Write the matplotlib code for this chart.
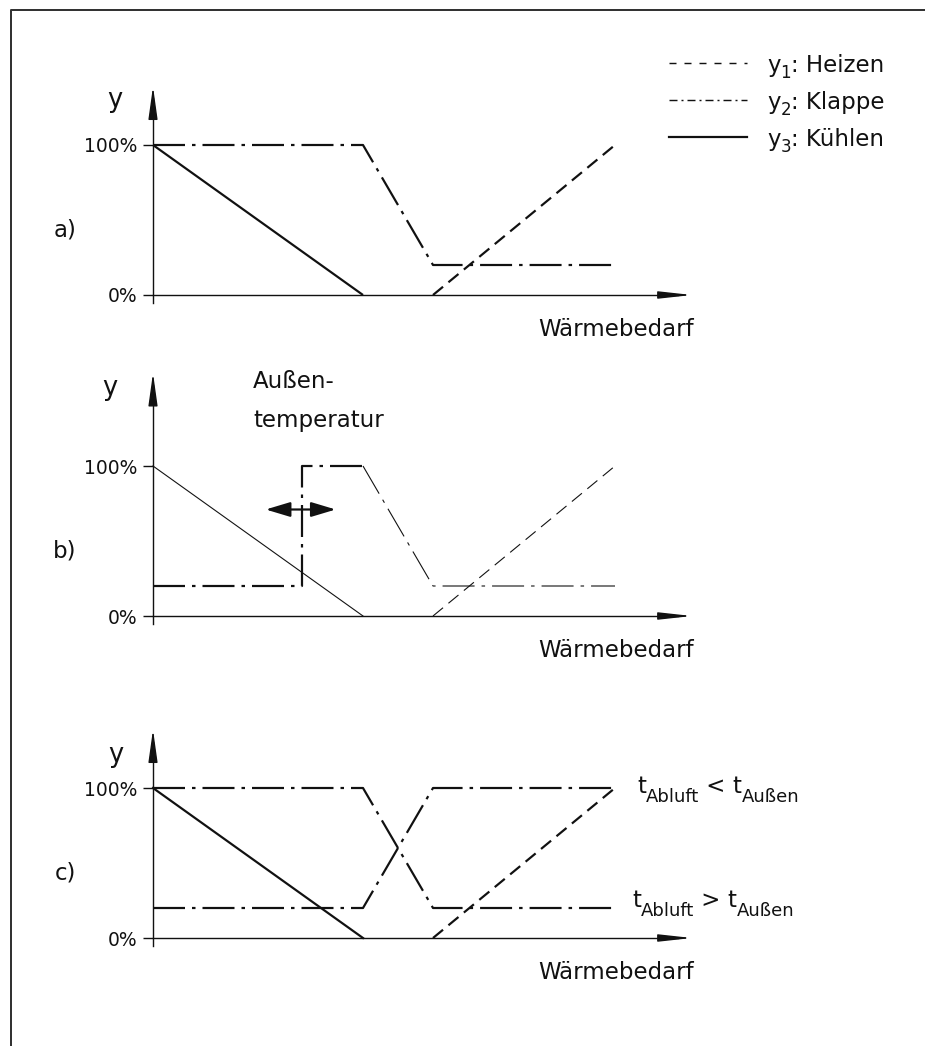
import matplotlib
matplotlib.use("Agg")
import matplotlib.pyplot as plt
from matplotlib.transforms import IdentityTransform
from matplotlib.lines import Line2D

plt.rcParams['font.family'] = ['DejaVu Sans']
plt.rcParams['lines.scale_dashes'] = False

W, H, DPI = 925, 1046, 100

# ---- data -------------------------------------------------------------
x_kuehlen = [0, 30]
y_kuehlen = [100, 0]
x_heizen = [40, 66]
y_heizen = [0, 100]
x_klappe = [0, 30, 40, 66]
y_klappe_a = [100, 100, 20, 20]
# b) damper step moves with outside temperature
x_klappe_b_var = [0, 21.3, 21.3, 30]
y_klappe_b_var = [20, 20, 100, 100]
x_klappe_b_fix = [30, 40, 66]
y_klappe_b_fix = [100, 20, 20]
# c) damper depending on exhaust vs. outside temperature
y_klappe_c_gt = [100, 100, 20, 20]
y_klappe_c_lt = [20, 20, 100, 100]

tick_values = [0, 100]
tick_labels = ['0%', '100%']
x_axis_end = 77
y_axis_top = {'a': 139, 'b': 162, 'c': 139}
panel_names = ['a', 'b', 'c']

# ---- styles -----------------------------------------------------------
PX = 0.72  # points per pixel at 100 dpi
DASH_KLAPPE = (0, (32 * PX, 7 * PX, 3.5 * PX, 7 * PX))
DASH_HEIZEN = (0, (13 * PX, 7 * PX))
LW_BOLD = 2.2 * PX
LW_THIN = 1.1 * PX
LW_AXIS = 1.4 * PX
INK = '#111111'
FS_MAIN = 16.5
FS_TICK = 13.5

fig = plt.figure(figsize=(W / DPI, H / DPI), dpi=DPI)
renderer = fig.canvas.get_renderer()

# baseline (0 %) of each diagram, pixels from the top
BASE = {'a': 295, 'b': 616, 'c': 938}
X0, SX, SY = 153, 7.0, 1.5


def panel_axes(name):
    b0 = BASE[name]
    top, bottom = b0 - 262, b0 + 46
    ax = fig.add_axes([0, 1 - bottom / H, 1, (bottom - top) / H])
    ax.set_xlim(-X0 / SX, (W - X0) / SX)
    ax.set_ylim(-(bottom - b0) / SY, (b0 - top) / SY)
    ax.patch.set_visible(False)
    for s in ('top', 'right'):
        ax.spines[s].set_visible(False)
    ax.spines['left'].set_position(('data', 0))
    ax.spines['bottom'].set_position(('data', 0))
    ax.spines['left'].set_bounds(-5.3, y_axis_top[name] - 8)
    ax.spines['bottom'].set_bounds(0, x_axis_end - 2)
    for s in ('left', 'bottom'):
        ax.spines[s].set_linewidth(LW_AXIS)
        ax.spines[s].set_color(INK)
    ax.set_xticks([])
    ax.set_yticks(tick_values, tick_labels)
    ax.tick_params(axis='y', direction='out', length=10 * PX, width=LW_AXIS,
                   color=INK, pad=6 * PX, labelsize=FS_TICK, labelcolor=INK)
    # arrow heads
    ax.annotate('', xy=(0, y_axis_top[name]), xytext=(0, y_axis_top[name] - 19),
                arrowprops=dict(arrowstyle='-|>,head_length=2.0,head_width=0.28',
                                mutation_scale=10, lw=LW_AXIS, color=INK,
                                shrinkA=0, shrinkB=0))
    ax.annotate('', xy=(x_axis_end, 0), xytext=(x_axis_end - 4, 0),
                arrowprops=dict(arrowstyle='-|>,head_length=2.0,head_width=0.22',
                                mutation_scale=10, lw=LW_AXIS, color=INK,
                                shrinkA=0, shrinkB=0))
    ax.text(x_axis_end + 0.3, -(657 - 616) / SY, 'Wärmebedarf', ha='right',
            va='baseline', fontsize=FS_MAIN, color=INK)
    ax.text(-88 / SX, -(230 - 295) / SY, name + ')', ha='center', va='center',
            fontsize=FS_MAIN, color=INK)
    return ax


axes = {n: panel_axes(n) for n in panel_names}

# a)
ax = axes['a']
ax.plot(x_kuehlen, y_kuehlen, color=INK, lw=LW_BOLD, solid_capstyle='butt')
ax.plot(x_klappe, y_klappe_a, color=INK, lw=LW_BOLD, linestyle=DASH_KLAPPE)
ax.plot(x_heizen, y_heizen, color=INK, lw=LW_BOLD, linestyle=DASH_HEIZEN)
ax.text(-38 / SX, 130, 'y', ha='center', va='center', fontsize=FS_MAIN + 2, color=INK)

# b)
ax = axes['b']
ax.plot(x_kuehlen, y_kuehlen, color=INK, lw=LW_THIN)
ax.plot(x_klappe_b_var, y_klappe_b_var, color=INK, lw=LW_BOLD, linestyle=DASH_KLAPPE)
ax.plot(x_klappe_b_fix, y_klappe_b_fix, color=INK, lw=LW_THIN, linestyle=DASH_KLAPPE)
ax.plot(x_heizen, y_heizen, color=INK, lw=LW_THIN, linestyle=DASH_HEIZEN)
ax.annotate('', xy=(16.1, 71), xytext=(26.1, 71),
            arrowprops=dict(arrowstyle='<|-|>,head_length=1.5,head_width=0.45',
                            mutation_scale=10, lw=LW_BOLD, color=INK,
                            shrinkA=0, shrinkB=0))
ax.text(-43 / SX, 152, 'y', ha='center', va='center', fontsize=FS_MAIN + 2, color=INK)
ax.text(100 / SX, (616 - 382) / SY, 'Außen-', ha='left', va='center',
        fontsize=FS_MAIN, color=INK)
ax.text(100 / SX, (616 - 420) / SY, 'temperatur', ha='left', va='center',
        fontsize=FS_MAIN, color=INK)

# c)
ax = axes['c']
ax.plot(x_kuehlen, y_kuehlen, color=INK, lw=LW_BOLD)
ax.plot(x_klappe, y_klappe_c_gt, color=INK, lw=LW_BOLD, linestyle=DASH_KLAPPE)
ax.plot(x_klappe, y_klappe_c_lt, color=INK, lw=LW_BOLD, linestyle=DASH_KLAPPE)
ax.plot(x_heizen, y_heizen, color=INK, lw=LW_BOLD, linestyle=DASH_HEIZEN)
ax.text(-37 / SX, 122, 'y', ha='center', va='center', fontsize=FS_MAIN + 2, color=INK)


# ---- free text with subscripts (pixel positions from the top-left) ----
def text_runs(x, y, runs):
    cx = x
    for s, size, dy in runs:
        t = fig.text(cx, H - (y + dy), s, fontsize=size, color=INK,
                     ha='left', va='baseline', transform=IdentityTransform())
        cx += t.get_window_extent(renderer).width


SUB = 13
text_runs(637, 793, [('t', FS_MAIN, 0), ('Abluft', SUB, 9), (' < ', FS_MAIN, 0),
                     ('t', FS_MAIN, 0), ('Außen', SUB, 9)])
text_runs(632, 907, [('t', FS_MAIN, 0), ('Abluft', SUB, 9), (' > ', FS_MAIN, 0),
                     ('t', FS_MAIN, 0), ('Außen', SUB, 9)])

# ---- legend -----------------------------------------------------------
legend_rows = [('1', ': Heizen', (0, (7 * PX, 8 * PX)), LW_THIN * 1.3),
               ('2', ': Klappe', (0, (8 * PX, 4 * PX, 2 * PX, 4 * PX)), LW_THIN * 1.3),
               ('3', ': Kühlen', '-', LW_BOLD)]
for i, (idx, label, ls, lw) in enumerate(legend_rows):
    yc = 63 + 37 * i
    fig.add_artist(Line2D([669, 747], [H - yc, H - yc], transform=IdentityTransform(),
                          color=INK, lw=lw, linestyle=ls))
    text_runs(767, yc + 9, [('y', FS_MAIN, 0), (idx, 12, 6), (label, FS_MAIN, 0)])

# ---- frame (top and left edge) ----------------------------------------
fig.add_artist(Line2D([11, 11, W], [0, H - 10, H - 10], transform=IdentityTransform(),
                      color='#333333', lw=2 * PX))

fig.savefig('out.png', dpi=DPI)
